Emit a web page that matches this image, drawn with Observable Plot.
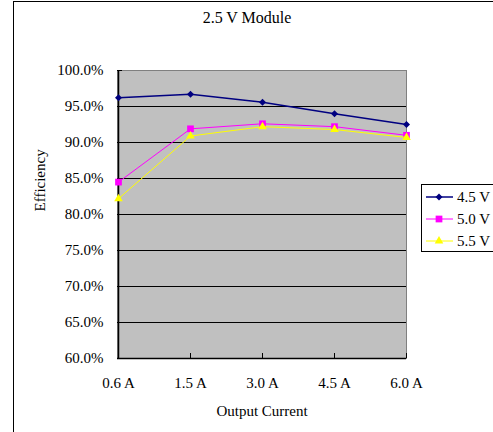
<!DOCTYPE html>
<html>
<head>
<meta charset="utf-8">
<script src="https://cdn.jsdelivr.net/npm/d3@7"></script>
<script src="https://cdn.jsdelivr.net/npm/@observablehq/plot@0.6"></script>
<style>
  html, body { margin: 0; padding: 0; background: #fff; overflow: hidden; width: 493px; height: 432px; }
  #border { position: absolute; left: 13px; top: 1px; width: 600px; height: 600px; border: 1px solid #000; box-sizing: border-box; }
  #chart { position: absolute; left: 0; top: 0; }
</style>
</head>
<body>
<div id="border"></div>
<div id="chart"></div>
<script>
const title = "2.5 V Module";
const xTitle = "Output Current";
const yTitle = "Efficiency";
const categories = ["0.6 A", "1.5 A", "3.0 A", "4.5 A", "6.0 A"];
const yTicks = [60, 65, 70, 75, 80, 85, 90, 95, 100];
const gridTicks = [65, 70, 75, 80, 85, 90, 95];
const seriesNames = ["4.5 V", "5.0 V", "5.5 V"];
const v45 = [96.2, 96.7, 95.6, 94.0, 92.5];
const v50 = [84.5, 91.9, 92.6, 92.2, 91.0];
const v55 = [82.2, 90.9, 92.2, 91.8, 90.7];
const seriesColors = ["#000080", "#FF00FF", "#FFFF00"];

const diamond = {
  draw(context, size) {
    const r = Math.sqrt(size / 2);
    context.moveTo(0, -r); context.lineTo(r, 0); context.lineTo(0, r); context.lineTo(-r, 0); context.closePath();
  }
};
const symbols = [diamond, "square", "triangle"];
const radii = [2.8, 3.8, 3.2];
const widths = [1.5, 1, 1];

const seriesValues = [v45, v50, v55];
const rows = seriesValues.map((vals, s) => categories.map((c, i) => ({cat: c, value: vals[i], series: seriesNames[s]})));

const font = "'Liberation Serif', 'Times New Roman', serif";

const marks = [
  Plot.frame({fill: "#C0C0C0", stroke: "#808080"}),
  Plot.ruleY(gridTicks, {stroke: "#000", strokeWidth: 1}),
  Plot.tickY(yTicks, {y: d => d, insetRight: 284, stroke: "#000"}),
  Plot.tickX(categories, {x: d => d, insetTop: 283, stroke: "#000"}),
  Plot.ruleY([60], {stroke: "#000", strokeWidth: 1.5}),
  Plot.ruleX([categories[0]], {stroke: "#000", strokeWidth: 1.5}),
  Plot.axisY({ticks: yTicks, tickSize: 0, tickPadding: 14, tickFormat: d => d.toFixed(1) + "%", label: null, fontSize: 15, fill: "#000"}),
  Plot.axisX({tickSize: 0, tickPadding: 19, label: null, fontSize: 15, fill: "#000"}),
  Plot.text([title], {frameAnchor: "top", dx: -15, dy: -59, lineAnchor: "top", fontSize: 16, fill: "#000"}),
  Plot.text([xTitle], {frameAnchor: "bottom", dy: 47, lineAnchor: "top", fontSize: 15, fill: "#000"}),
  Plot.text([yTitle], {frameAnchor: "left", dx: -77, dy: -3, rotate: -90, fontSize: 15, fill: "#000"})
];
rows.forEach((data, s) => {
  marks.push(Plot.line(data, {x: "cat", y: "value", stroke: seriesColors[s], strokeWidth: widths[s]}));
  marks.push(Plot.dot(data, {x: "cat", y: "value", symbol: () => symbols[s], r: radii[s], fill: seriesColors[s], stroke: "none"}));
});

const chart = Plot.plot({
  width: 493,
  height: 432,
  marginLeft: 117,
  marginRight: 87,
  marginTop: 70,
  marginBottom: 74,
  style: {fontFamily: font, fontSize: "15px", background: "transparent", color: "#000"},
  x: {type: "point", domain: categories, padding: 0},
  y: {domain: [60, 100]},
  symbol: {type: "identity"},
  marks
});
document.getElementById("chart").appendChild(chart);

// Legend
const svg = d3.select(chart);
const lg = svg.append("g").attr("font-family", font).attr("font-size", 15).attr("text-anchor", "start");
lg.append("rect").attr("x", 421.5).attr("y", 184.5).attr("width", 100).attr("height", 67)
  .attr("fill", "#fff").attr("stroke", "#000");
const legendSymbols = [diamond, d3.symbolSquare, d3.symbolTriangle];
seriesNames.forEach((name, s) => {
  const y = 197 + s * 22;
  lg.append("line").attr("x1", 426).attr("x2", 453).attr("y1", y).attr("y2", y)
    .attr("stroke", seriesColors[s]).attr("stroke-width", widths[s]);
  lg.append("path").attr("transform", `translate(439,${y})`)
    .attr("d", d3.symbol(legendSymbols[s], Math.PI * radii[s] * radii[s])())
    .attr("fill", seriesColors[s]);
  lg.append("text").attr("x", 457).attr("y", y).attr("dy", "0.35em").attr("text-anchor", "start").attr("fill", "#000").text(name);
});
</script>
</body>
</html>
